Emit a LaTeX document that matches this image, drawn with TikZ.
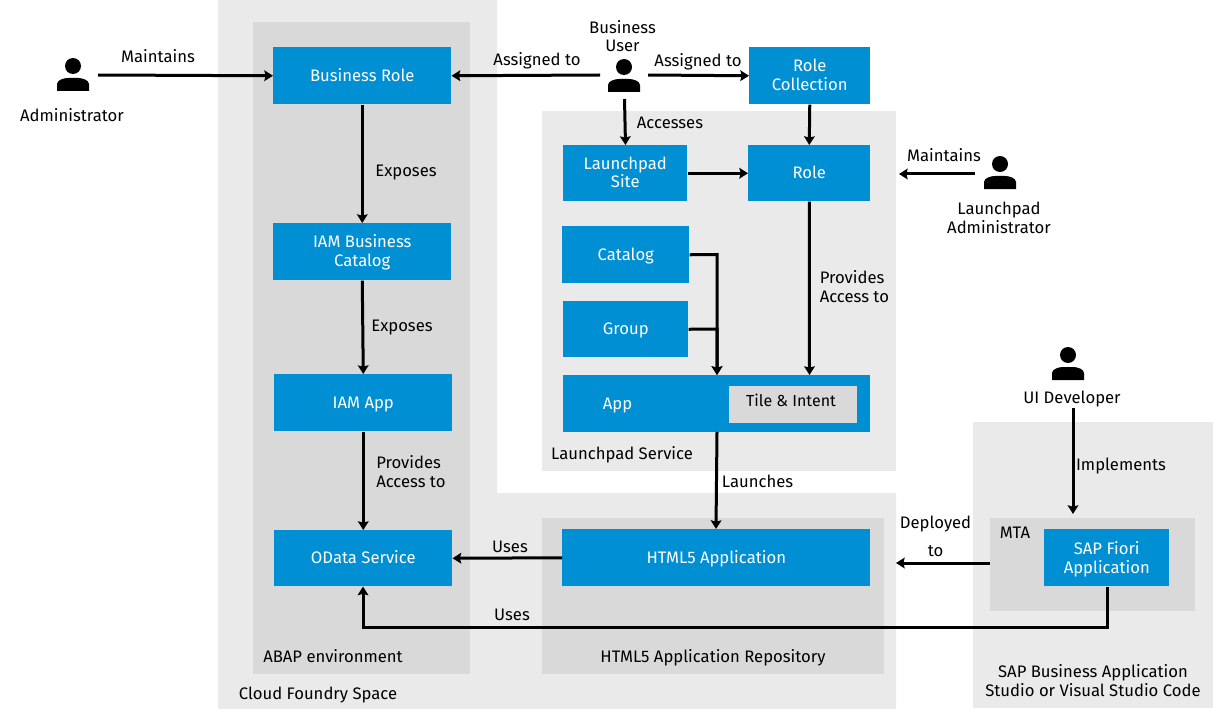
\documentclass[tikz,border=0pt]{standalone}
\usepackage{fontspec}
\setmainfont{Fira Sans}
\usetikzlibrary{arrows.meta}
\definecolor{lightbg}{HTML}{EAEAEA}
\definecolor{midbg}{HTML}{D9D9D9}
\definecolor{sapblue}{HTML}{008FD3}
\tikzset{x=0.75pt,y=-0.75pt,
 bluebox/.style={fill=sapblue,text=white,align=center,inner sep=0,text depth=1.5pt,font=\fontsize{12.5}{14.2}\selectfont},
 lab/.style={align=center,inner sep=0,text depth=0pt,font=\fontsize{12.5}{14.2}\selectfont,text=black},
 conn/.style={draw=black,line width=2.25pt,-{Stealth[length=6.5pt,width=8pt,inset=1pt]}},
 person/.pic={\fill (0,-9) circle (8); \fill (-16,16) -- (-16,9) .. controls (-16,5) and (-9,3) .. (-5,3) -- (5,3) .. controls (9,3) and (16,5) .. (16,9) -- (16,16) -- cycle;}
}
\newcommand{\bbox}[7][]{\node[bluebox,minimum width=#5*0.75pt,minimum height=#6*0.75pt,anchor=north west,#1] (#2) at (#3,#4) {#7};}
\begin{document}
\begin{tikzpicture}
\useasboundingbox (0,0) rectangle (1213,713);
\fill[white] (0,0) rectangle (1213,713);
% light backgrounds
\fill[lightbg] (218,0) -- (497,0) -- (497,493) -- (896,493) -- (896,709) -- (218,709) -- cycle;
\fill[lightbg] (542,111) rectangle (896,471);
\fill[lightbg] (973,422) rectangle (1213,708);
% mid backgrounds
\fill[midbg] (253,22) rectangle (470,674);
\fill[midbg] (542,518) rectangle (884,674);
\fill[midbg] (990,518) rectangle (1195,611);
% boxes
\bbox{role}{273}{47}{178}{57}{Business Role}
\bbox{cat}{273}{223}{178}{57}{IAM Business\\Catalog}
\bbox[text depth=0pt]{iam}{274}{374}{178}{57}{IAM App}
\bbox{odata}{274}{530}{178}{56}{OData Service}
\bbox{coll}{749}{47}{121}{57}{Role\\Collection}
\bbox{lsite}{563}{145}{124}{56}{Launchpad\\Site}
\bbox{lrole}{748}{145}{122}{56}{Role}
\bbox{catalog}{562}{226}{127}{57}{Catalog}
\bbox{group}{563}{301}{125}{56}{Group}
\node[fill=sapblue,minimum width=307*0.75pt,minimum height=57*0.75pt,anchor=north west,inner sep=0] (app) at (563,375) {};
\node[lab,text=white] (applbl) at (617.5,404) {App};
\node[fill=midbg,minimum width=128*0.75pt,minimum height=37*0.75pt,anchor=north west,inner sep=0] (tile) at (729,386) {};
\node[lab,font=\fontsize{12}{14.2}\selectfont] (tilelbl) at (791,400) {Tile \& Intent};
\bbox{html}{562}{529}{308}{57}{HTML5 Application}
\bbox[text depth=0pt]{fiori}{1044}{529}{125}{57}{SAP Fiori\\Application}
% people
\pic[black] at (73,75) {person};
\pic[black] at (624,76) {person};
\pic[black] at (1000,173) {person};
\pic[black] at (1068,364) {person};
\coordinate (admin) at (98,75);
\coordinate (buser) at (600,75);
\coordinate (buser2) at (648,75);
\coordinate (buser3) at (624.5,99);
\coordinate (ladmin) at (975,174);
\coordinate (uidev) at (1073,408);
% labels
\node[lab] (a1) at (72,115) {Administrator};
\node[lab] (a2) at (158,56) {Maintains};
\node[lab] (a3) at (622.5,36) {Business\\User};
\node[lab] (a4) at (537,59) {Assigned to};
\node[lab] (a5) at (698,60) {Assigned to};
\node[lab] (a6) at (670,123) {Accesses};
\node[lab] (a7) at (944,155) {Maintains};
\node[lab] (a8) at (999,218) {Launchpad\\Administrator};
\node[lab] (a9) at (406,171) {Exposes};
\node[lab] (a10) at (402,326) {Exposes};
\node[lab,align=left,anchor=west] (a11) at (376,471.5) {Provides\\Access to};
\node[lab,align=left,anchor=west] (a12) at (819.5,286.5) {Provides\\Access to};
\node[lab] (a13) at (622,453) {Launchpad Service};
\node[lab] (a14) at (757.5,481) {Launches};
\node[lab] (a15) at (1072,397) {UI Developer};
\node[lab] (a16) at (1121,464) {Implements};
\node[lab] (a17) at (935.5,536.5) {Deployed\\[7pt]to};
\node[lab] (a18) at (1015,533) {MTA};
\node[lab] (a19) at (510,547) {Uses};
\node[lab] (a20) at (512,615) {Uses};
\node[lab] (a21) at (333,656) {ABAP environment};
\node[lab] (a22) at (713,656) {HTML5 Application Repository};
\node[lab] (a23) at (318,693) {Cloud Foundry Space};
\node[lab] (a24) at (1093,680.5) {SAP Business Application\\Studio or Visual Studio Code};
% connectors
\draw[conn] (admin) -- (role.west);
\draw[conn] (buser) -- (role.east);
\draw[conn] (buser2) -- (coll.west);
\draw[conn] (buser3) -- (625.5,145);
\draw[conn] (coll.south) -- (lrole.north);
\draw[conn] (lsite.east) -- (lrole.west);
\draw[conn] (ladmin) -- (899,174);
\draw[conn] (lrole.south) -- (809.5,375);
\draw[conn] (catalog.east) -- (717,254.5) -- (717,375);
\draw[conn] (group.east) -- (717,329) -- (717,375);
\draw[conn] (role.south) -- (cat.north);
\draw[conn] (cat.south) -- (iam.north);
\draw[conn] (iam.south) -- (odata.north);
\draw[conn] (717,432) -- (html.north -| 716,0);
\draw[conn] (html.west) -- (odata.east);
\draw[conn] (990,563) -- (896,563);
\draw[conn] (uidev) -- (1073,514);
\draw[conn] (fiori.south -| 1107,0) -- (1107,627) -- (363,627) -- (odata.south -| 363,0);
\end{tikzpicture}
\end{document}
